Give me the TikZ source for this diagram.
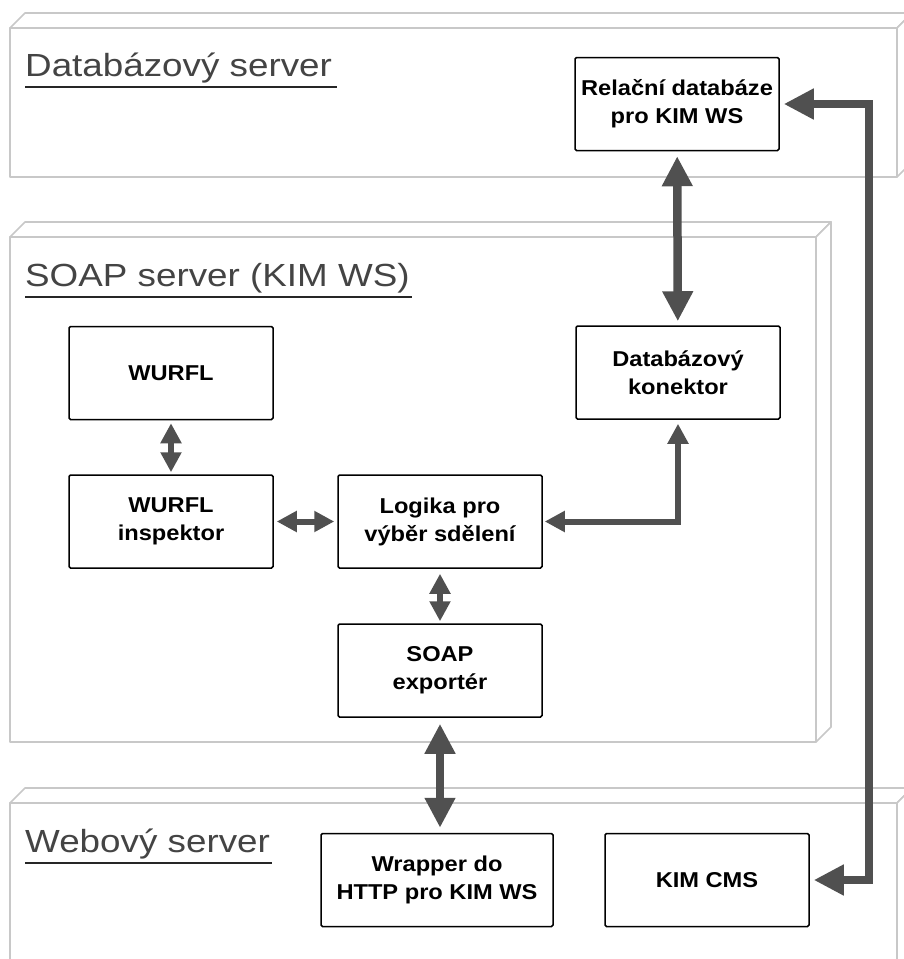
\documentclass[tikz,border=0pt]{standalone}
\usepackage{fontspec}
\usetikzlibrary{arrows.meta}
\newfontfamily\titlefont[FakeStretch=1.15]{Liberation Sans}
\newfontfamily\boxfont[FakeStretch=1.1]{Liberation Sans}
\definecolor{arrowgray}{HTML}{505050}
\definecolor{panelgray}{HTML}{C8C8C8}
\definecolor{titlegray}{HTML}{444444}

% server panel: front face + top face + right side
\newcommand\serverpanel[4]{%
  \filldraw[panel] (#1,#2) rectangle (#3,#4);
  \filldraw[panel] (#1,#2) -- ({#1+15},{#2-15}) -- ({#3+15},{#2-15}) -- (#3,#2) -- cycle;
  \filldraw[panel] (#3,#2) -- ({#3+15},{#2-15}) -- ({#3+15},{#4-15}) -- (#3,#4) -- cycle;
}

\begin{document}
\begin{tikzpicture}[x=1pt, y=-1pt,
    panel/.style={draw=panelgray, fill=white, line width=1.7pt, line join=round},
    box/.style={draw, line width=1.5pt, rounded corners=1.5pt, fill=white,
      minimum width=204pt, minimum height=93pt, align=center, inner sep=0pt,
      font=\boxfont\bfseries\fontsize{21.5}{28}\selectfont},
    title/.style={anchor=base west, inner sep=0pt, text=titlegray,
      font=\titlefont\fontsize{32}{38}\selectfont},
    uline/.style={line width=1.5pt, draw=black!85},
    big/.style={draw=arrowgray, line width=8.5pt, line join=miter,
      {Triangle[length=30pt,width=29pt]}-{Triangle[length=30pt,width=29pt]}},
    small/.style={draw=arrowgray, line width=6pt, line join=miter,
      {Triangle[length=20pt,width=20pt]}-{Triangle[length=20pt,width=20pt]}}]
    \useasboundingbox (0,0) rectangle (904,959);
    \clip (0,0) rectangle (904,959);

    % 1. Servery
    \serverpanel{10}{28}{897}{177}
    \serverpanel{10}{237}{816}{742}
    \serverpanel{10}{803}{897}{1000}

    \node[title] (dbt) at (25,76) {Databázový server};
    \node[title] (soapt) at (25,286) {SOAP server (KIM WS)};
    \node[title] (webt) at (25,852) {Webový server};
    \draw[uline] ([yshift=-11pt]dbt.base west) -- ([yshift=-11pt,xshift=5pt]dbt.base east);
    \draw[uline] ([yshift=-11pt]soapt.base west) -- ([yshift=-11pt,xshift=2pt]soapt.base east);
    \draw[uline] ([yshift=-11pt]webt.base west) -- ([yshift=-11pt,xshift=2pt]webt.base east);

    % 2. Komponenty
    \node[box] (rel) at (677,104) {Relační databáze\\pro KIM WS};
    \node[box] (kon) at (678,372.5) {Databázový\\konektor};
    \node[box] (wurfl) at (171,373) {WURFL};
    \node[box] (insp) at (171,521.5) {WURFL\\inspektor};
    \node[box] (logika) at (440,521.5) {Logika pro\\výběr sdělení};
    \node[box] (soapexp) at (440,670.5) {SOAP\\exportér};
    \node[box, minimum width=232pt] (wrap) at (437,880) {Wrapper do\\HTTP pro KIM WS};
    \node[box] (cms) at (707,880) {KIM CMS};
    \coordinate (bus) at (869,0);

    % 3. Spojení
    \draw[big, shorten <=5pt, shorten >=4pt] (rel) -- (kon);
    \draw[big, shorten <=6pt, shorten >=5pt] (soapexp.south) -- (soapexp.south |- wrap.north);
    \draw[big, shorten <=4pt, shorten >=4pt] (rel.east) -- (rel.east -| bus) -- (cms.east -| bus) -- (cms.east);

    \draw[small, shorten <=3pt, shorten >=2pt] (wurfl) -- (insp);
    \draw[small, shorten <=3pt, shorten >=3pt] (insp) -- (logika);
    \draw[small, shorten <=5pt, shorten >=2pt] (logika) -- (soapexp);
    \draw[small, shorten <=2pt, shorten >=4pt] (logika.east) -- (logika.east -| kon.south) -- (kon.south);
\end{tikzpicture}
\end{document}
